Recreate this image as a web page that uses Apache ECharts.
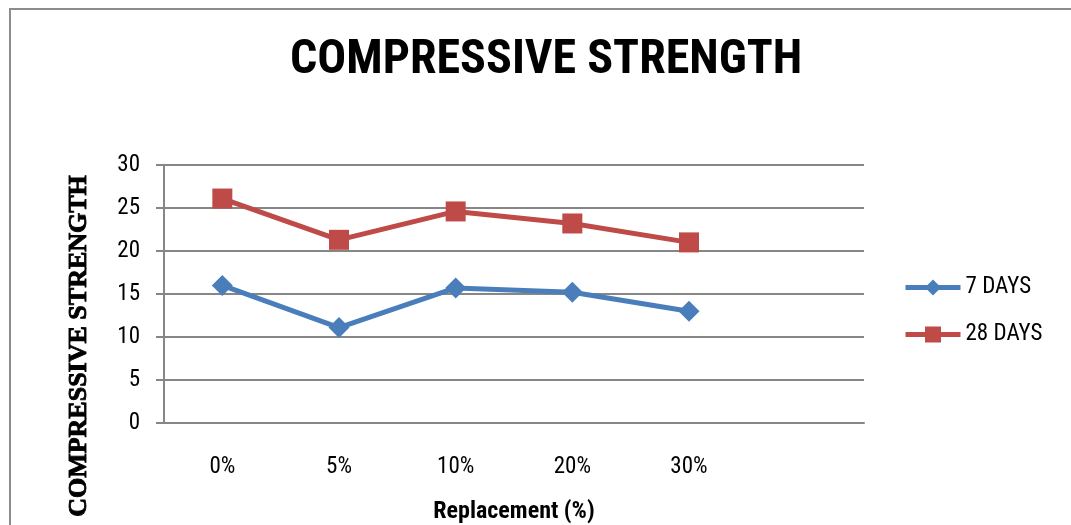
<!DOCTYPE html>
<html><head><meta charset="utf-8">
<script src="https://cdn.jsdelivr.net/npm/echarts@6/dist/echarts.min.js"></script>
<style>html,body{margin:0;padding:0;background:#fff}#c{width:1071px;height:525px}</style>
</head><body><div id="c"></div>
<script>
const categories = ['0%', '5%', '10%', '20%', '30%', ''];
const days7 = [16, 11.1, 15.7, 15.2, 13];
const days28 = [26.1, 21.3, 24.6, 23.2, 21];
const yTicks = [0, 5, 10, 15, 20, 25, 30];
const narrow = "'Liberation Sans Narrow', 'Arial Narrow', 'Roboto Condensed', sans-serif";
const chart = echarts.init(document.getElementById('c'));
chart.setOption({
  animation: false,
  backgroundColor: '#fff',
  graphic: [{type: 'rect', shape: {x: 10, y: 9, width: 1100, height: 600}, style: {fill: 'none', stroke: '#8c8c8c', lineWidth: 2}}],
  title: {text: 'COMPRESSIVE STRENGTH', left: 285, top: 32, textStyle: {fontFamily: narrow, fontWeight: 'bold', fontSize: 48, color: '#000'}},
  grid: {left: 164, right: 207, top: 165, bottom: 99},
  legend: {orient: 'vertical', left: 898, top: 271, itemWidth: 55, itemHeight: 20, itemGap: 24,
    lineStyle: {width: 5},
    textStyle: {fontFamily: narrow, fontSize: 23, color: '#000'}, data: ['7 DAYS', '28 DAYS']},
  xAxis: {type: 'category', data: categories, boundaryGap: true,
    name: 'Replacement (%)', nameLocation: 'middle', nameGap: 77,
    nameTextStyle: {fontFamily: narrow, fontWeight: 'bold', fontSize: 24, color: '#000'},
    axisLine: {lineStyle: {color: '#868686', width: 2}}, axisTick: {show: false},
    axisLabel: {fontFamily: narrow, fontSize: 23, color: '#000', margin: 33}},
  yAxis: {type: 'value', min: 0, max: 30, interval: 5,
    name: 'COMPRESSIVE STRENGTH', nameLocation: 'middle', nameGap: 72,
    nameTextStyle: {fontFamily: "'Liberation Serif', 'Times New Roman', serif", fontWeight: 'bold', fontSize: 26, color: '#000',
      textBorderColor: '#000', textBorderWidth: 0.9, padding: [0, 0, 0, -104]},
    axisLine: {show: true, lineStyle: {color: '#868686', width: 2}},
    axisTick: {show: true, length: 8, lineStyle: {color: '#868686', width: 2}},
    splitLine: {lineStyle: {color: '#868686', width: 2}},
    axisLabel: {fontFamily: narrow, fontSize: 23, color: '#000', margin: 24,
      formatter: v => yTicks.includes(v) ? String(v) : ''}},
  series: [
    {name: '7 DAYS', type: 'line', data: days7, symbol: 'diamond', symbolSize: 21,
     lineStyle: {color: '#4A7EBB', width: 5}, itemStyle: {color: '#4A7EBB'}},
    {name: '28 DAYS', type: 'line', data: days28, symbol: 'rect', symbolSize: 20,
     lineStyle: {color: '#BE4B48', width: 5}, itemStyle: {color: '#BE4B48'}}
  ]
});
</script></body></html>
